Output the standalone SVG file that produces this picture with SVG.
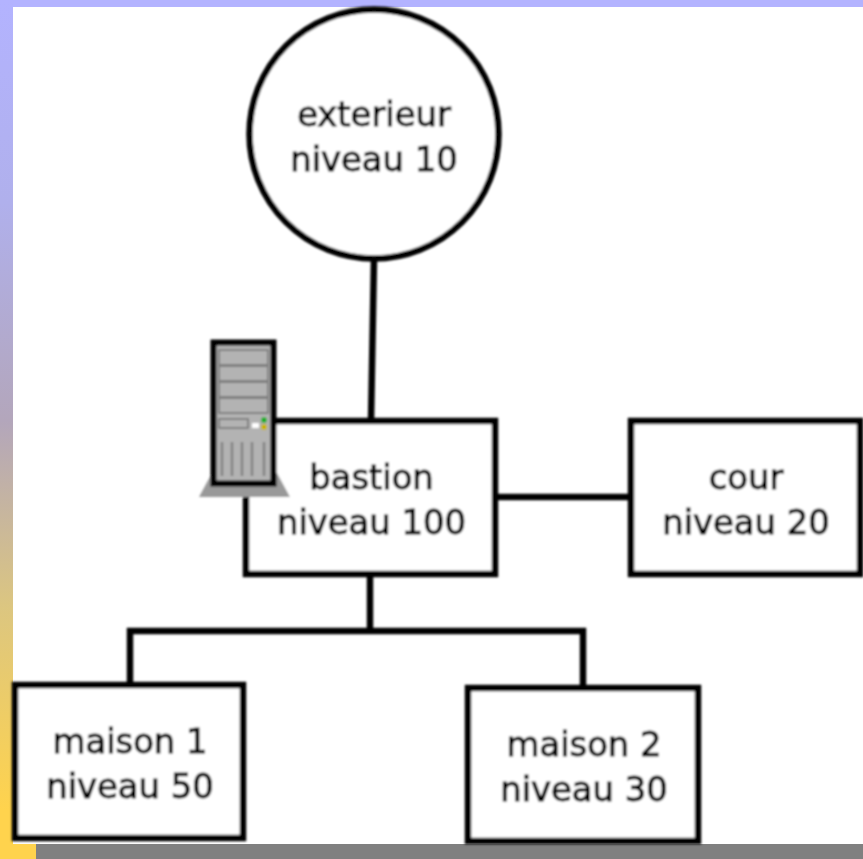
<svg xmlns="http://www.w3.org/2000/svg" width="863" height="859" viewBox="0 0 863 859">
<style>
.box{fill:#fff;stroke:#000;stroke-width:6.5}
.wire{fill:none;stroke:#000;stroke-width:6.5}
text{font-family:"DejaVu Sans",sans-serif;font-size:33.8px;fill:#000;stroke:#000;stroke-width:1px;text-anchor:middle}
.bay{fill:#b3b3b3;stroke:#7f7f7f;stroke-width:2}
.slot{fill:none;stroke:#808080;stroke-width:2.4}
</style>
<defs>
<linearGradient id="side" gradientUnits="userSpaceOnUse" x1="0" y1="0" x2="0" y2="810">
<stop offset="0" stop-color="#b3b3ff"/><stop offset="0.25" stop-color="#b0b0ec"/><stop offset="0.52" stop-color="#b3a6bb"/><stop offset="0.75" stop-color="#dcc680"/><stop offset="1" stop-color="#ffd34d"/>
</linearGradient>
<filter id="soft" x="-5%" y="-5%" width="110%" height="110%"><feGaussianBlur stdDeviation="0.8"/></filter>
</defs>
<rect width="863" height="859" fill="#fff"/>
<rect width="863" height="7" fill="#b3b3ff"/>
<rect width="13" height="859" fill="url(#side)"/>
<rect x="0" y="844" width="36" height="15" fill="#ffd34d"/>
<rect x="36" y="844" width="827" height="15" fill="#808080"/>
<g filter="url(#soft)">
<g id="connectors">
<path class="wire" d="M374 258L371 422"/>
<path class="wire" d="M495 497H631"/>
<path class="wire" d="M370 574V631"/>
<path class="wire" d="M130 686V631H583V689"/>
</g>
<g id="exterieur"><circle class="box" cx="374" cy="134" r="124.5"/><text x="374" y="126">exterieur</text><text x="374" y="171">niveau 10</text></g>
<g id="bastion"><rect class="box" x="246" y="421" width="249" height="153"/><text x="371.500" y="489">bastion</text><text x="371.500" y="534">niveau 100</text></g>
<g id="cour"><rect class="box" x="631" y="421" width="229" height="153"/><text x="746" y="489">cour</text><text x="746" y="534">niveau 20</text></g>
<g id="maison1"><rect class="box" x="15" y="685" width="228" height="153"/><text x="130" y="753">maison 1</text><text x="130" y="798">niveau 50</text></g>
<g id="maison2"><rect class="box" x="468" y="688" width="230" height="153"/><text x="584" y="756">maison 2</text><text x="584" y="801">niveau 30</text></g>
<g id="serveur">
<path d="M212 473L199 497H290L277 473Z" fill="#999"/>
<rect x="213.500" y="342.500" width="60" height="141" fill="#b3b3b3" stroke="#000" stroke-width="6"/>
<rect class="bay" x="219" y="350" width="49" height="15"/>
<rect class="bay" x="219" y="366" width="49" height="15"/>
<rect class="bay" x="219" y="382" width="49" height="15"/>
<rect class="bay" x="219" y="398" width="49" height="15"/>
<rect class="bay" x="219" y="419" width="29" height="9"/>
<rect x="252" y="423" width="7" height="5" fill="#fff"/>
<circle cx="264" cy="420" r="3" fill="#1fae2a"/>
<circle cx="264" cy="427" r="3" fill="#c8b400"/>
<path class="slot" d="M222 442V476M232 442V476M242 442V476M252 442V476M264 442V476"/>
</g>
</g>
</svg>
